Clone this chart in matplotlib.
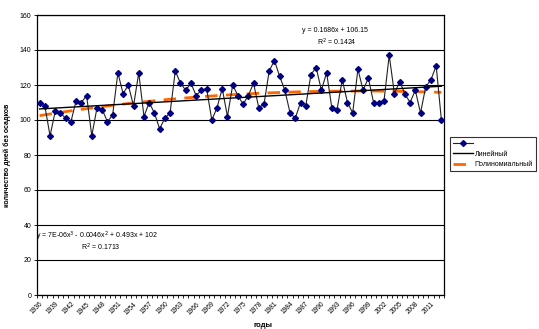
import numpy as np
import matplotlib
matplotlib.use("Agg")
import matplotlib.pyplot as plt

# Number of dry days per year
years = list(range(1936, 2014))
dry_days = [
    110, 108, 91, 105, 104, 101, 99, 111, 110, 114,   # 1936-1945
    91, 107, 106, 99, 103, 127, 115, 120, 108, 127,    # 1946-1955
    102, 110, 104, 95, 101, 104, 128, 121, 117, 121,   # 1956-1965
    114, 117, 118, 100, 107, 118, 102, 120, 114, 109,  # 1966-1975
    114, 121, 107, 109, 128, 134, 125, 117, 104, 101,  # 1976-1985
    110, 108, 126, 130, 117, 127, 107, 106, 123, 110,  # 1986-1995
    104, 129, 117, 124, 110, 110, 111, 137, 115, 122,  # 1996-2005
    115, 110, 117, 104, 119, 123, 131, 100,            # 2006-2013
]

# Trend line coefficients (x = 1..N)
lin_coef = [0.1686, 106.15]
poly_coef = [7e-06, -0.0046, 0.493, 102]
lin_eq = "y = 0.1686x + 106.15"
lin_r2 = "R$^2$ = 0.1424"
poly_eq = "y = 7E-06x$^3$ - 0.0046x$^2$ + 0.493x + 102"
poly_r2 = "R$^2$ = 0.1713"

y_ticks = list(range(0, 161, 20))
label_step = 3

plt.rcParams["font.family"] = ["Liberation Sans", "DejaVu Sans"]

W, H = 539, 329
fig = plt.figure(figsize=(W / 100, H / 100), dpi=100)
ax = fig.add_axes([37 / W, 1 - 295 / H, (444 - 37) / W, (295 - 15) / H])

n = len(years)
pos = np.arange(n)
xv = pos + 1

ax.plot(pos, dry_days, color="#222222", lw=0.8, marker="D", ms=3.0,
        mfc="#000080", mec="#000080", label=" ", zorder=3)
ax.plot(pos, np.polyval(lin_coef, xv), color="black", lw=1.0,
        label="Линейный", zorder=4)
ax.plot(pos, np.polyval(poly_coef, xv), color="#FF6600", lw=2.0,
        dashes=(4.5, 3), label="Полиномиальный", zorder=2)

ax.set_xlim(-0.5, n - 0.5)
ax.set_ylim(0, 160)
ax.set_yticks(y_ticks)
ax.yaxis.grid(True, color="black", lw=0.8)
ax.set_axisbelow(True)

label_pos = pos[::label_step]
ax.set_xticks(label_pos)
ax.set_xticklabels([str(years[i]) for i in label_pos], rotation=45,
                   ha="right", rotation_mode="anchor", fontsize=4.8)
ax.set_xticks(np.arange(-0.5, n, 1.0), minor=True)
ax.tick_params(axis="x", which="major", length=0, pad=4)
ax.tick_params(axis="x", which="minor", length=2, width=0.6, direction="out")
ax.tick_params(axis="y", length=2, width=0.6, labelsize=5, pad=2)

for s in ax.spines.values():
    s.set_linewidth(0.9)
    s.set_color("black")

ax.set_ylabel("количество дней без осадков", fontsize=5, fontweight="bold")
ax.yaxis.set_label_coords(-0.065, 0.5)
ax.set_xlabel("годы", fontsize=5.5, fontweight="bold")
ax.xaxis.set_label_coords(0.555, -0.095)

fig.text(302 / W, 1 - 31 / H, lin_eq, fontsize=5, ha="left", va="center")
fig.text(317 / W, 1 - 42 / H, lin_r2, fontsize=5, ha="left", va="center")
fig.text(36 / W, 1 - 236 / H, poly_eq, fontsize=5, ha="left", va="center")
fig.text(81 / W, 1 - 247 / H, poly_r2, fontsize=5, ha="left", va="center")

leg = fig.legend(loc="upper left", bbox_to_anchor=(450 / W, 1 - 137 / H),
                 fontsize=5, frameon=True, fancybox=False, edgecolor="black",
                 handlelength=2.8, handletextpad=0.3, borderpad=0.45,
                 labelspacing=0.5, borderaxespad=0)
leg.get_frame().set_linewidth(0.8)

fig.savefig("out.png", dpi=100)
